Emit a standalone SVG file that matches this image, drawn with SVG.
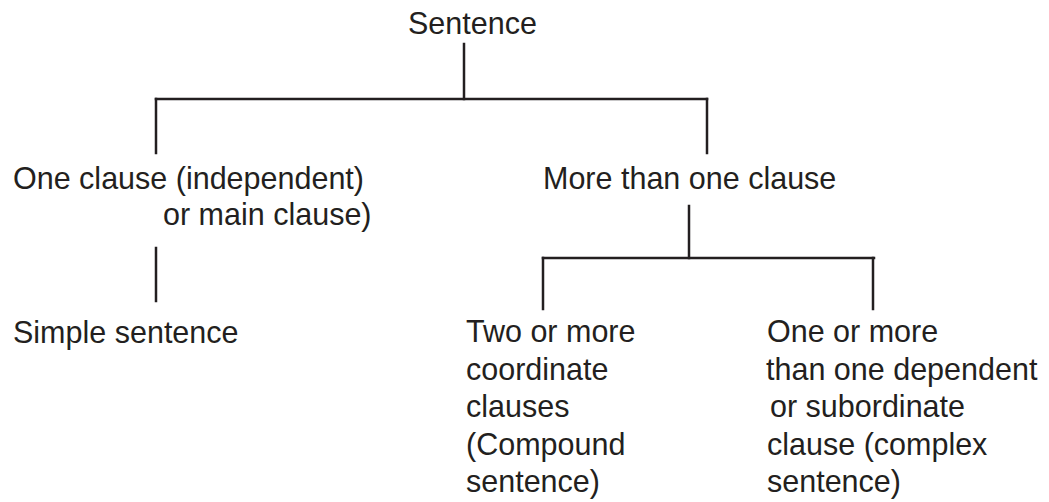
<svg xmlns="http://www.w3.org/2000/svg" width="1049" height="502" viewBox="0 0 1049 502">
<style>
text{font-family:"Liberation Sans",Arial,Helvetica,sans-serif;font-size:30.5px;fill:#231f20}
.c line{stroke:#231f20;stroke-width:2.5;stroke-linecap:square}
</style>
<rect width="1049" height="502" fill="#fff"/>
<g class="c" id="connectors">
<line x1="464" y1="44" x2="464" y2="99"/>
<line x1="156" y1="99" x2="707" y2="99"/>
<line x1="156" y1="99" x2="156" y2="153"/>
<line x1="707" y1="99" x2="707" y2="153"/>
<line x1="156" y1="248" x2="156" y2="301"/>
<line x1="689" y1="206" x2="689" y2="258"/>
<line x1="543" y1="258" x2="874" y2="258"/>
<line x1="543" y1="258" x2="543" y2="309"/>
<line x1="873" y1="258" x2="873" y2="309"/>
</g>
<g id="n-sentence"><text x="408" y="34">Sentence</text></g>
<g id="n-one"><text x="13" y="189">One clause (independent)</text><text x="163" y="225">or main clause)</text></g>
<g id="n-more"><text x="543" y="189">More than one clause</text></g>
<g id="n-simple"><text x="13" y="343">Simple sentence</text></g>
<g id="n-compound">
<text x="466" y="342">Two or more</text>
<text x="466" y="380">coordinate</text>
<text x="466" y="417">clauses</text>
<text x="466" y="455">(Compound</text>
<text x="466" y="492">sentence)</text>
</g>
<g id="n-complex">
<text x="767" y="342">One or more</text>
<text x="766" y="380">than one dependent</text>
<text x="770" y="417">or subordinate</text>
<text x="767" y="455">clause (complex</text>
<text x="767" y="492">sentence)</text>
</g>
</svg>
